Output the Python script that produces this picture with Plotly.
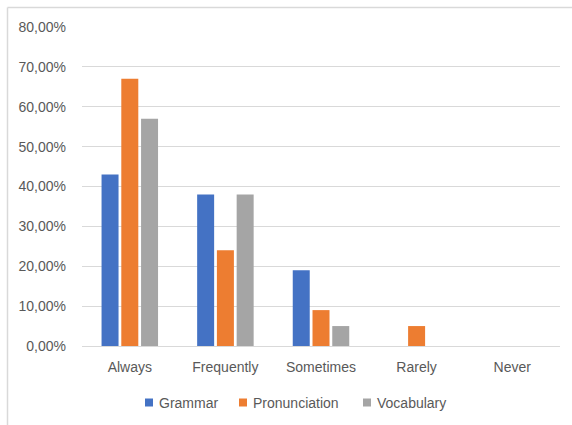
import plotly.graph_objects as go

categories = ["Always", "Frequently", "Sometimes", "Rarely", "Never"]
grammar = [0.43, 0.38, 0.19, 0.0, 0.0]
pronunciation = [0.67, 0.24, 0.09, 0.05, 0.0]
vocabulary = [0.57, 0.38, 0.05, 0.0, 0.0]

series_names = ["Grammar", "Pronunciation", "Vocabulary"]
series_values = [grammar, pronunciation, vocabulary]
series_colors = ["#4472C4", "#ED7D31", "#A5A5A5"]

W, H = 572, 425
L, R, T, B = 82, 12, 27, 79
pw, ph = W - L - R, H - T - B


def px_x(p):
    return (p - L) / pw


def px_y(p):
    return (H - B - p) / ph


fig = go.Figure()
for name, vals, color in zip(series_names, series_values, series_colors):
    fig.add_trace(go.Bar(x=categories, y=vals, name=name, marker_color=color,
                         marker_line_width=0, showlegend=False))

# legend row at the bottom: square swatch followed by the series name
legend_swatch_x = [145, 239, 363]
shapes = []
annotations = []
for sx, name, color in zip(legend_swatch_x, series_names, series_colors):
    shapes.append(dict(type="rect", xref="paper", yref="paper",
                       x0=px_x(sx), x1=px_x(sx + 8), y0=px_y(406.5), y1=px_y(398.5),
                       line=dict(width=0), fillcolor=color))
    annotations.append(dict(text=name, xref="paper", yref="paper",
                            x=px_x(sx + 12), y=px_y(402.5), xanchor="left", yanchor="middle",
                            showarrow=False, font=dict(size=14, color="#595959")))

# chart frame: top and left edges
shapes.append(dict(type="line", xref="paper", yref="paper",
                   x0=px_x(7.5), x1=px_x(W + 2), y0=px_y(7.5), y1=px_y(7.5),
                   line=dict(color="#D9D9D9", width=1.5), layer="below"))
shapes.append(dict(type="line", xref="paper", yref="paper",
                   x0=px_x(7.5), x1=px_x(7.5), y0=px_y(7.5), y1=px_y(H + 2),
                   line=dict(color="#D9D9D9", width=1.5), layer="below"))

fig.update_layout(
    width=W, height=H,
    margin=dict(l=L, r=R, t=T, b=B),
    paper_bgcolor="white", plot_bgcolor="white",
    separators=",.",
    barmode="group", bargap=0.38, bargroupgap=0.14,
    font=dict(family="Liberation Sans, Arial", size=14, color="#595959"),
    showlegend=False,
    xaxis=dict(showgrid=False, showline=False, ticks="", tickfont=dict(size=14),
               ticklabelstandoff=11),
    yaxis=dict(range=[0, 0.8], dtick=0.1, tickformat=".2%", showgrid=True,
               gridcolor="#D9D9D9", gridwidth=1, zeroline=True, zerolinecolor="#D9D9D9",
               zerolinewidth=1, showline=False, ticks="", tickfont=dict(size=14),
               ticklabelstandoff=15),
    shapes=shapes,
    annotations=annotations,
)

fig.write_html("out.html")
